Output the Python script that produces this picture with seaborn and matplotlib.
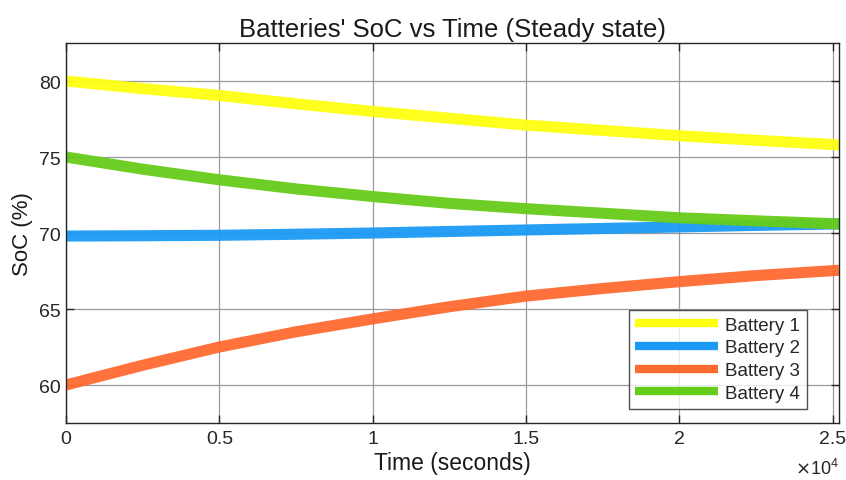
import matplotlib
matplotlib.use("Agg")
import matplotlib.pyplot as plt
import seaborn as sns
import pandas as pd
from matplotlib.ticker import FuncFormatter

# Data (time in seconds)
time_s = [0, 2500, 5000, 7500, 10000, 12500, 15000, 17500, 20000, 22500, 25200]
battery_1 = [80.0, 79.5, 79.05, 78.5, 78.0, 77.55, 77.1, 76.75, 76.4, 76.1, 75.8]
battery_2 = [69.8, 69.82, 69.85, 69.92, 70.0, 70.1, 70.2, 70.3, 70.4, 70.5, 70.6]
battery_3 = [60.0, 61.3, 62.5, 63.5, 64.35, 65.15, 65.85, 66.35, 66.8, 67.2, 67.55]
battery_4 = [75.0, 74.2, 73.5, 72.9, 72.4, 71.95, 71.6, 71.3, 71.0, 70.8, 70.6]
series_names = ["Battery 1", "Battery 2", "Battery 3", "Battery 4"]
colors = ["#ffff10", "#1a9af5", "#ff6a30", "#66cc1a"]
x_ticks = [0, 5000, 10000, 15000, 20000, 25000]
y_ticks = [60, 65, 70, 75, 80]

rows = []
for name, vals in zip(series_names, [battery_1, battery_2, battery_3, battery_4]):
    for t, v in zip(time_s, vals):
        rows.append({"Time": t, "SoC": v, "Battery": name})
df = pd.DataFrame(rows)

sns.set_theme(style="white")
plt.rcParams["font.family"] = ["Liberation Sans", "DejaVu Sans"]

fig = plt.figure(figsize=(8.46, 4.81), dpi=100)
ax = fig.add_axes([0.078, 0.1185, 0.9137, 0.79])

sns.lineplot(data=df, x="Time", y="SoC", hue="Battery", palette=colors,
             linewidth=8.0, ax=ax, legend=True, solid_capstyle="butt", alpha=0.95)

ax.set_xlim(0, 25200)
ax.set_ylim(57.5, 82.5)
ax.set_xticks(x_ticks)
ax.set_yticks(y_ticks)
ax.xaxis.set_major_formatter(FuncFormatter(lambda v, p: f"{v/1e4:g}"))
ax.grid(True, color="#9a9a9a", linewidth=0.9)
ax.set_axisbelow(True)
for s in ax.spines.values():
    s.set_color("#262626")
    s.set_linewidth(1.0)
ax.tick_params(direction="in", length=6, width=1.0, colors="#262626",
               labelsize=14, top=True, right=True, bottom=True, left=True,
               labelcolor="#262626")
ax.tick_params(axis="x", pad=5)
ax.tick_params(axis="y", pad=4)
ax.set_xlabel("Time (seconds)", fontsize=16.5, color="#1a1a1a", labelpad=3)
ax.set_ylabel("SoC (%)", fontsize=16, color="#1a1a1a", labelpad=4)
ax.set_title("Batteries' SoC vs Time (Steady state)", fontsize=18.5,
             color="#1a1a1a", pad=5)
ax.text(1.0, -0.118, r"$\times\mathregular{10^4}$", transform=ax.transAxes,
        ha="right", va="center", fontsize=13, color="#262626")

leg = ax.legend(loc="lower right", bbox_to_anchor=(0.9585, 0.038), fontsize=13.5,
                frameon=True, fancybox=False, handlelength=4.4,
                borderpad=0.35, labelspacing=0.3, handletextpad=0.4,
                borderaxespad=0.0)
leg.get_frame().set_edgecolor("#262626")
leg.get_frame().set_linewidth(1.0)
for line in leg.get_lines():
    line.set_linewidth(6)
    line.set_alpha(1.0)

fig.savefig("out.png", dpi=100)
